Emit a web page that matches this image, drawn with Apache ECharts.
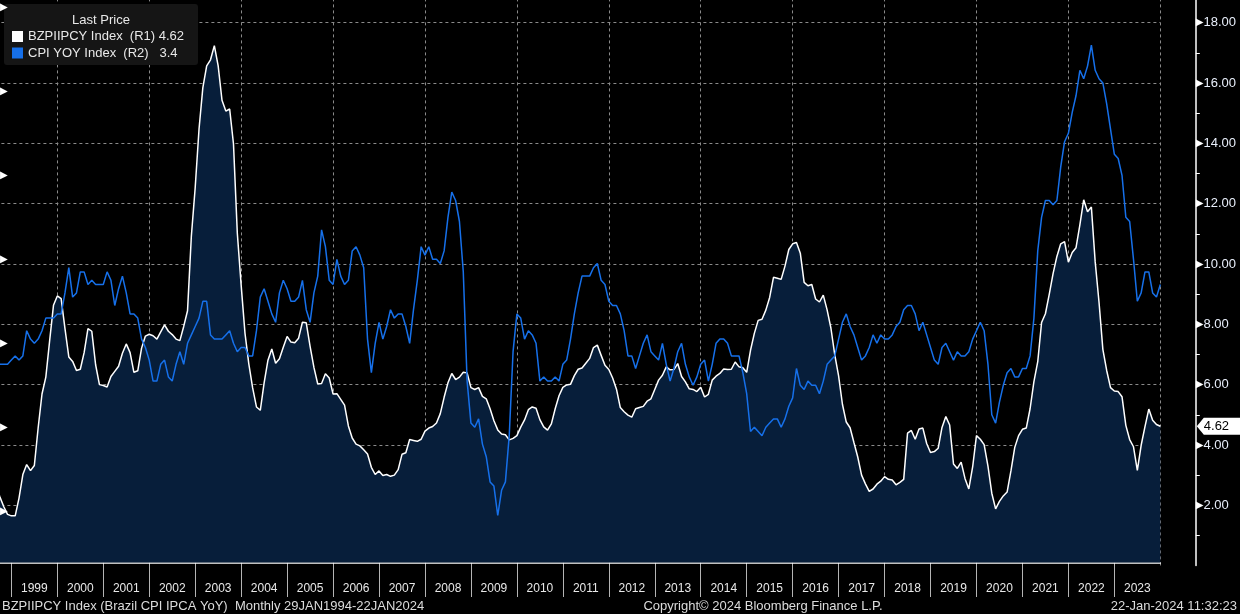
<!DOCTYPE html>
<html>
<head>
<meta charset="utf-8">
<script src="https://cdn.jsdelivr.net/npm/echarts@6/dist/echarts.min.js"></script>
<style>
html, body { margin: 0; padding: 0; background: #000; }
#main { width: 1240px; height: 614px; }
</style>
</head>
<body>
<div id="main"></div>
<script>
// monthly data, first point = Aug 1998, last = Dec 2023
var startYear = 1998;
var startMonth = 8;

// BZPIIPCY Index (Brazil CPI IPCA YoY), right axis R1
var brazilIpca = [
    2.62, 2.28, 1.96, 1.70, 1.65,
    1.65, 2.24, 3.02, 3.35, 3.15, 3.32, 4.57, 5.69, 6.25, 7.46, 8.63, 8.94,
    8.85, 7.86, 6.92, 6.77, 6.47, 6.51, 7.06, 7.86, 7.77, 6.66, 6.00, 5.97,
    5.92, 6.27, 6.44, 6.61, 7.04, 7.35, 7.06, 6.41, 6.46, 7.21, 7.61, 7.67,
    7.62, 7.51, 7.75, 7.98, 7.77, 7.66, 7.51, 7.46, 7.93, 8.45, 10.93, 12.53,
    14.47, 15.85, 16.57, 16.77, 17.24, 16.57, 15.43, 15.07, 15.14, 13.98, 11.02, 9.30,
    7.71, 6.69, 5.89, 5.26, 5.15, 6.06, 6.81, 7.18, 6.71, 6.86, 7.24, 7.60,
    7.41, 7.39, 7.54, 8.07, 8.05, 7.27, 6.57, 6.02, 6.04, 6.36, 6.22, 5.69,
    5.70, 5.51, 5.32, 4.63, 4.23, 4.03, 3.97, 3.84, 3.70, 3.26, 3.02, 3.14,
    2.99, 3.02, 2.96, 3.00, 3.18, 3.69, 3.74, 4.18, 4.15, 4.12, 4.19, 4.46,
    4.56, 4.61, 4.73, 5.04, 5.58, 6.06, 6.37, 6.17, 6.25, 6.41, 6.39, 5.90,
    5.84, 5.90, 5.61, 5.53, 5.20, 4.80, 4.50, 4.36, 4.34, 4.17, 4.22, 4.31,
    4.59, 4.83, 5.17, 5.26, 5.22, 4.84, 4.60, 4.49, 4.70, 5.20, 5.63, 5.91,
    5.99, 6.01, 6.30, 6.51, 6.55, 6.71, 6.87, 7.23, 7.31, 6.97, 6.64, 6.50,
    6.22, 5.85, 5.24, 5.10, 4.99, 4.92, 5.20, 5.24, 5.28, 5.45, 5.53, 5.84,
    6.15, 6.31, 6.59, 6.49, 6.50, 6.70, 6.27, 6.09, 5.86, 5.84, 5.77, 5.91,
    5.59, 5.68, 6.15, 6.28, 6.37, 6.52, 6.50, 6.51, 6.75, 6.59, 6.56, 6.41,
    7.14, 7.70, 8.13, 8.17, 8.47, 8.89, 9.56, 9.53, 9.49, 9.93, 10.48, 10.67,
    10.71, 10.36, 9.39, 9.28, 9.32, 8.84, 8.74, 8.97, 8.48, 7.87, 6.99, 6.29,
    5.35, 4.76, 4.57, 4.08, 3.60, 3.00, 2.71, 2.46, 2.54, 2.70, 2.80, 2.95,
    2.86, 2.84, 2.68, 2.76, 2.86, 4.39, 4.48, 4.19, 4.53, 4.56, 4.05, 3.75,
    3.78, 3.89, 4.58, 4.94, 4.66, 3.37, 3.22, 3.43, 2.89, 2.54, 3.27, 4.31,
    4.19, 4.01, 3.30, 2.40, 1.88, 2.13, 2.31, 2.44, 3.14, 3.92, 4.31, 4.52,
    4.56, 5.20, 6.10, 6.76, 8.06, 8.35, 8.99, 9.68, 10.25, 10.67, 10.74, 10.06,
    10.38, 10.54, 11.30, 12.13, 11.73, 11.89, 10.07, 8.73, 7.17, 6.47, 5.90, 5.79,
    5.77, 5.60, 4.65, 4.18, 3.94, 3.16, 3.99, 4.61, 5.19, 4.82, 4.68, 4.62
];

// CPI YOY Index (US CPI YoY), hidden left axis R2
var usCpi = [
    1.6, 1.5, 1.5, 1.5, 1.6,
    1.7, 1.6, 1.7, 2.3, 2.1, 2.0, 2.1, 2.3, 2.6, 2.6, 2.6, 2.7,
    2.7, 3.2, 3.8, 3.1, 3.2, 3.7, 3.7, 3.4, 3.5, 3.4, 3.4, 3.4,
    3.7, 3.5, 2.9, 3.3, 3.6, 3.2, 2.7, 2.7, 2.6, 2.1, 1.9, 1.6,
    1.1, 1.1, 1.5, 1.6, 1.2, 1.1, 1.5, 1.8, 1.5, 2.0, 2.2, 2.4,
    2.6, 3.0, 3.0, 2.2, 2.1, 2.1, 2.1, 2.2, 2.3, 2.0, 1.8, 1.9,
    1.9, 1.7, 1.7, 2.3, 3.1, 3.3, 3.0, 2.7, 2.5, 3.2, 3.5, 3.3,
    3.0, 3.0, 3.1, 3.5, 2.8, 2.5, 3.2, 3.6, 4.7, 4.3, 3.5, 3.4,
    4.0, 3.6, 3.4, 3.5, 4.2, 4.3, 4.1, 3.8, 2.1, 1.3, 2.0, 2.5,
    2.1, 2.4, 2.8, 2.6, 2.7, 2.7, 2.4, 2.0, 2.8, 3.5, 4.3, 4.1,
    4.3, 4.0, 4.0, 3.9, 4.2, 5.0, 5.6, 5.4, 4.9, 3.7, 1.1, 0.1,
    0.0, 0.2, -0.4, -0.7, -1.3, -1.4, -2.1, -1.5, -1.3, -0.2, 1.8, 2.7,
    2.6, 2.1, 2.3, 2.2, 2.0, 1.1, 1.2, 1.1, 1.1, 1.2, 1.1, 1.5,
    1.6, 2.1, 2.7, 3.2, 3.6, 3.6, 3.6, 3.8, 3.9, 3.5, 3.4, 3.0,
    2.9, 2.9, 2.7, 2.3, 1.7, 1.7, 1.4, 1.7, 2.0, 2.2, 1.8, 1.7,
    1.6, 2.0, 1.5, 1.1, 1.4, 1.8, 2.0, 1.5, 1.2, 1.0, 1.2, 1.5,
    1.6, 1.1, 1.5, 2.0, 2.1, 2.1, 2.0, 1.7, 1.7, 1.7, 1.3, 0.8,
    -0.1, 0.0, -0.1, -0.2, 0.0, 0.1, 0.2, 0.2, 0.0, 0.2, 0.5, 0.7,
    1.4, 1.0, 0.9, 1.1, 1.0, 1.0, 0.8, 1.1, 1.5, 1.6, 1.7, 2.1,
    2.5, 2.7, 2.4, 2.2, 1.9, 1.6, 1.7, 1.9, 2.2, 2.0, 2.2, 2.1,
    2.1, 2.2, 2.4, 2.5, 2.8, 2.9, 2.9, 2.7, 2.3, 2.5, 2.2, 1.9,
    1.6, 1.5, 1.9, 2.0, 1.8, 1.6, 1.8, 1.7, 1.7, 1.8, 2.1, 2.3,
    2.5, 2.3, 1.5, 0.3, 0.1, 0.6, 1.0, 1.3, 1.4, 1.2, 1.2, 1.4,
    1.4, 1.7, 2.6, 4.2, 5.0, 5.4, 5.4, 5.3, 5.4, 6.2, 6.8, 7.0,
    7.5, 7.9, 8.5, 8.3, 8.6, 9.1, 8.5, 8.3, 8.2, 7.7, 7.1, 6.5,
    6.4, 6.0, 5.0, 4.9, 4.0, 3.0, 3.2, 3.7, 3.7, 3.2, 3.1, 3.4
];

var seriesNames = ['BZPIIPCY Index', 'CPI YOY Index'];
var seriesAxis = ['(R1)', '(R2)'];
var lastValues = ['4.62', '3.4'];
var footerTexts = [
    'BZPIIPCY Index (Brazil CPI IPCA YoY)  Monthly 29JAN1994-22JAN2024',
    'Copyright\u00a9 2024 Bloomberg Finance L.P.',
    '22-Jan-2024 11:32:23'
];

function toPoints(arr) {
    return arr.map(function (v, i) {
        return [startYear + (startMonth + i) / 12, v];
    });
}

var FONT = '"Liberation Sans", Arial, sans-serif';
var GRID_L = -34.6, GRID_R = 79.7;

var myChart = echarts.init(document.getElementById('main'));

var option = {
    backgroundColor: '#000',
    animation: false,
    grid: [
        // Brazil (R1): 0 .. 20
        { left: GRID_L, right: GRID_R, top: -37.6, bottom: 48.4, outerBoundsMode: 'none', containLabel: false },
        // US CPI (R2): -4 .. 12
        { left: GRID_L, right: GRID_R, top: -76.7, bottom: 18.7, outerBoundsMode: 'none', containLabel: false },
        // strip for the year tick lines below the axis
        { left: GRID_L, right: GRID_R, top: 562.5, bottom: 17, outerBoundsMode: 'none', containLabel: false }
    ],
    legend: {
        data: seriesNames,
        orient: 'vertical',
        left: 12,
        top: 30,
        padding: 0,
        z: 60,
        itemWidth: 11,
        itemHeight: 11,
        itemGap: 3.5,
        icon: 'rect',
        selectedMode: false,
        textStyle: { color: '#e8e8e8', fontSize: 13, fontFamily: FONT },
        formatter: function (name) {
            var i = seriesNames.indexOf(name);
            return i === 0
                ? name + '  ' + seriesAxis[i] + ' ' + lastValues[i]
                : name + '  ' + seriesAxis[i] + '   ' + lastValues[i];
        }
    },
    xAxis: [
        {   // visible year axis
            type: 'value', gridIndex: 0, position: 'bottom', offset: -3.1,
            min: 1998, max: 2024, interval: 1,
            axisLine: { lineStyle: { color: '#fff', width: 1.5 } },
            axisTick: { show: false },
            splitLine: { show: false },
            axisLabel: {
                color: '#e8e8e8', fontSize: 12, fontFamily: FONT, margin: 20,
                padding: [0, 0, 0, 46],
                formatter: function (v) {
                    return (v >= 1999 && v <= 2023) ? String(v) : '';
                }
            }
        },
        {   // dotted vertical grid every 2 years
            type: 'value', gridIndex: 0, position: 'top',
            min: 1998, max: 2024, interval: 2,
            axisLine: { show: false }, axisTick: { show: false }, axisLabel: { show: false },
            splitLine: { show: true, showMinLine: false, lineStyle: { color: '#8a8a8a', type: [3, 3], width: 1 } }
        },
        {
            type: 'value', gridIndex: 1, show: false, min: 1998, max: 2024
        },
        {   // year tick lines below axis
            type: 'value', gridIndex: 2, min: 1998, max: 2024, interval: 1,
            axisLine: { show: false }, axisTick: { show: false }, axisLabel: { show: false },
            splitLine: { show: true, showMinLine: false, showMaxLine: false, lineStyle: { color: '#b4b4b4', width: 1 } }
        }
    ],
    yAxis: [
        {
            type: 'value', gridIndex: 0, position: 'right', offset: 35.5,
            min: 0, max: 20, interval: 2,
            axisLine: { show: true, lineStyle: { color: '#fff', width: 1.5 } },
            axisTick: { show: false },
            minorTick: { show: true, splitNumber: 2, length: 4, lineStyle: { color: '#fff', width: 1 } },
            splitLine: { show: true, showMinLine: false, showMaxLine: false, lineStyle: { color: '#8a8a8a', type: [3, 3], width: 1 } },
            axisLabel: {
                margin: 0,
                formatter: function (v) {
                    return (v >= 2 && v <= 18) ? '{t|\u25B6}{v|' + v.toFixed(2) + '}' : '';
                },
                rich: {
                    t: { fontFamily: '"DejaVu Sans"', fontSize: 10, color: '#fff' },
                    v: { fontFamily: FONT, fontSize: 13, color: '#e8eefa' }
                }
            }
        },
        {
            type: 'value', gridIndex: 1, position: 'left', offset: GRID_L,
            min: -4, max: 12, interval: 2,
            z: 70,
            axisLine: { show: false }, axisTick: { show: false }, splitLine: { show: false },
            axisLabel: {
                inside: true, margin: 0,
                color: '#fff', fontSize: 10, fontFamily: '"DejaVu Sans"',
                formatter: function (v) {
                    return (v >= -2 && v <= 10) ? '\u25B6' : '';
                }
            }
        },
        {
            type: 'value', gridIndex: 2, show: false
        }
    ],
    series: [
        {
            name: seriesNames[0],
            type: 'line',
            xAxisIndex: 0, yAxisIndex: 0,
            data: toPoints(brazilIpca),
            showSymbol: false,
            silent: true,
            z: 3,
            itemStyle: { color: '#ffffff' },
            lineStyle: { color: '#ffffff', width: 1.5 },
            areaStyle: { color: '#071e3a', opacity: 1, origin: 0.1 }
        },
        {
            name: seriesNames[1],
            type: 'line',
            xAxisIndex: 2, yAxisIndex: 1,
            data: toPoints(usCpi),
            showSymbol: false,
            silent: true,
            z: 4,
            itemStyle: { color: '#1670ea' },
            lineStyle: { color: '#1670ea', width: 1.5 }
        }
    ]
};

myChart.setOption(option);

// last price tag on the right axis, placed through the axis scale
var tagY = myChart.convertToPixel({ yAxisIndex: 0 }, brazilIpca[brazilIpca.length - 1]);
var axisX = myChart.convertToPixel({ xAxisIndex: 0 }, 2024) + 35.5;

myChart.setOption({
    graphic: [
        {
            type: 'rect', z: 50, silent: true,
            shape: { x: 4, y: 4, width: 194, height: 61, r: 3 },
            style: { fill: '#151515' }
        },
        {
            type: 'text', z: 60, silent: true, x: 101, y: 20.5,
            style: { text: 'Last Price', fill: '#e8e8e8', font: '13px ' + FONT, align: 'center', verticalAlign: 'middle' }
        },
        {
            type: 'polygon', z: 60, silent: true,
            shape: { points: [[axisX + 1, tagY], [axisX + 8, tagY - 8.5], [1240, tagY - 8.5], [1240, tagY + 8.5], [axisX + 8, tagY + 8.5]] },
            style: { fill: '#ffffff' }
        },
        {
            type: 'text', z: 61, silent: true, x: axisX + 8, y: tagY,
            style: { text: lastValues[0], fill: '#000', font: '13px ' + FONT, align: 'left', verticalAlign: 'middle' }
        },
        {
            type: 'text', z: 60, silent: true, x: 2, y: 606,
            style: { text: footerTexts[0], fill: '#dcdcdc', font: '13px ' + FONT, align: 'left', verticalAlign: 'middle' }
        },
        {
            type: 'text', z: 60, silent: true, x: 763, y: 606,
            style: { text: footerTexts[1], fill: '#dcdcdc', font: '13px ' + FONT, align: 'center', verticalAlign: 'middle' }
        },
        {
            type: 'text', z: 60, silent: true, x: 1237, y: 606,
            style: { text: footerTexts[2], fill: '#dcdcdc', font: '13px ' + FONT, align: 'right', verticalAlign: 'middle' }
        }
    ]
});
</script>
</body>
</html>
